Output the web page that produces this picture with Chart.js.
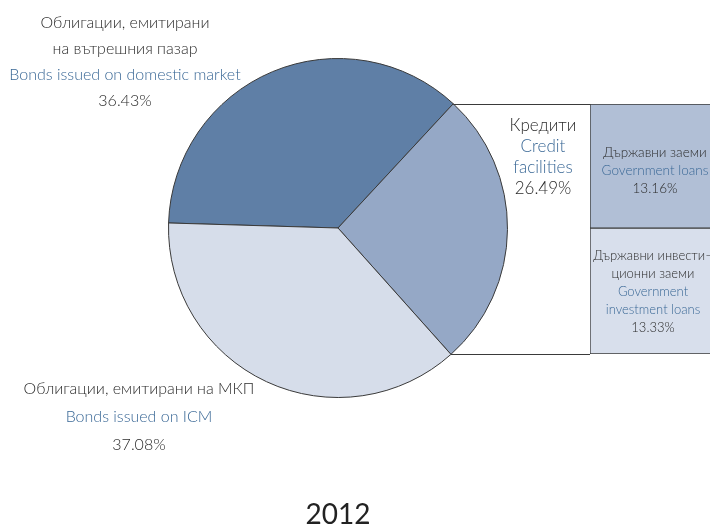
<!DOCTYPE html>
<html lang="bg">
<head>
    <meta charset="UTF-8">
    <title>2012</title>
    <script src="https://cdn.jsdelivr.net/npm/chart.js"></script>
    <style>
        body {
            margin: 0;
            background: #fff;
            width: 710px;
            height: 528px;
            overflow: hidden;
            position: relative;
            font-family: Lato, "Open Sans", sans-serif;
            font-weight: 300;
            color: #2b2b2b;
        }
        #pieChart { position: absolute; left: 0; top: 0; }
        #barBox { position: absolute; left: 590px; top: 104px; width: 124px; height: 250px; }
        .lbl {
            position: absolute;
            width: 300px;
            text-align: center;
            white-space: nowrap;
        }
        .en { color: #3a6896; }
        .big { font-size: 16px; line-height: 26px; }
        .small { font-size: 13px; line-height: 18px; }
        #year {
            position: absolute;
            left: 238px;
            width: 200px;
            top: 496px;
            text-align: center;
            font-size: 28px;
            font-weight: 400;
            color: #222;
        }
    </style>
</head>
<body>
    <canvas id="pieChart" width="710" height="528"></canvas>
    <div id="barBox"><canvas id="barChart"></canvas></div>

    <div class="lbl big" style="left:-25px; top:9px;">
        Облигации, емитирани<br>на вътрешния пазар<br><span class="en">Bonds issued on domestic market</span><br>36.43%
    </div>
    <div class="lbl big" style="left:-11px; top:374px; line-height:28px;">
        Облигации, емитирани на МКП<br><span class="en">Bonds issued on ICM</span><br>37.08%
    </div>
    <div class="lbl big" style="left:393px; top:114px; line-height:21px; font-size:17px;">
        Кредити<br><span class="en">Credit<br>facilities</span><br>26.49%
    </div>
    <div class="lbl small" style="left:505px; top:143px; font-size:13.5px;">
        Държавни заеми<br><span class="en">Government loans</span><br>13.16%
    </div>
    <div class="lbl small" style="left:503px; top:246px;">
        Държавни инвести–<br>ционни заеми<br><span class="en">Government<br>investment loans</span><br>13.33%
    </div>
    <div id="year">2012</div>

    <script>
        // pie: domestic bonds, credits, ICM bonds
        const pieLabels = ['Bonds issued on domestic market', 'Credit facilities', 'Bonds issued on ICM'];
        const pieValues = [36.43, 26.49, 37.08];
        const pieColors = ['#5f7fa6', '#95a8c6', '#d6ddea'];

        // split of the credit slice (bottom first, stacked upward)
        const barLabels = ['Government investment loans', 'Government loans'];
        const barValues = [13.33, 13.16];
        const barColors = ['#d8dfec', '#b1bfd6'];

        const lineColor = '#3a3a3a';

        const barChart = new Chart(document.getElementById('barChart'), {
            type: 'bar',
            data: {
                labels: ['Credit facilities'],
                datasets: barValues.map((v, i) => ({
                    label: barLabels[i],
                    data: [v],
                    backgroundColor: barColors[i],
                    borderColor: lineColor,
                    borderWidth: 1,
                    borderSkipped: false,
                    barPercentage: 1,
                    categoryPercentage: 1
                }))
            },
            options: {
                responsive: true,
                maintainAspectRatio: false,
                animation: false,
                layout: { padding: 0 },
                scales: {
                    x: { stacked: true, display: false },
                    y: { stacked: true, display: false, min: 0, max: pieValues[1] }
                },
                plugins: { legend: { display: false }, tooltip: { enabled: false } }
            }
        });

        // lines from the credit slice edges to the bar
        const connectors = {
            id: 'connectors',
            afterDraw(chart) {
                const arc = chart.getDatasetMeta(0).data[1];
                if (!arc) return;
                const p = arc.getProps(['x', 'y', 'startAngle', 'endAngle', 'outerRadius'], true);
                const barEl = barChart.getDatasetMeta(0).data[0];
                const box = document.getElementById('barBox');
                const endX = box.offsetLeft + barEl.x - barEl.width / 2;
                const ctx = chart.ctx;
                ctx.save();
                ctx.strokeStyle = lineColor;
                ctx.lineWidth = 1;
                [p.startAngle, p.endAngle].forEach(a => {
                    const sx = p.x + p.outerRadius * Math.cos(a);
                    const sy = p.y + p.outerRadius * Math.sin(a);
                    ctx.beginPath();
                    ctx.moveTo(sx, Math.round(sy) + 0.5);
                    ctx.lineTo(endX, Math.round(sy) + 0.5);
                    ctx.stroke();
                });
                ctx.restore();
            }
        };

        new Chart(document.getElementById('pieChart'), {
            type: 'pie',
            data: {
                labels: pieLabels,
                datasets: [{
                    data: pieValues,
                    backgroundColor: pieColors,
                    borderColor: lineColor,
                    borderWidth: 1
                }]
            },
            options: {
                responsive: false,
                animation: false,
                rotation: -88.3,
                layout: { padding: { left: 168, right: 202, top: 58, bottom: 130 } },
                plugins: { legend: { display: false }, tooltip: { enabled: false } }
            },
            plugins: [connectors]
        });
    </script>
</body>
</html>
